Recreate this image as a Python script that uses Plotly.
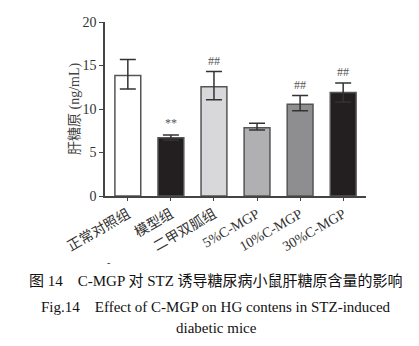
import plotly.graph_objects as go

categories = ["正常对照组", "模型组", "二甲双胍组", "5%C-MGP", "10%C-MGP", "30%C-MGP"]
values = [13.85, 6.7, 12.55, 7.85, 10.55, 11.9]
err_plus = [1.85, 0.3, 1.75, 0.5, 1.0, 1.1]
err_minus = [1.55, 0.3, 1.5, 0.25, 0.75, 1.1]
bar_colors = ["#ffffff", "#231f20", "#d8d8da", "#b0b0b2", "#8e8e90", "#231f20"]
marks = ["", "**", "##", "", "##", "##"]
mark_y = [0, 8.4, 15.5, 0, 12.75, 14.3]

W, H = 419, 346
L, R, T, B = 105, 53, 22, 150
ph = H - T - B

def py(p):
    return (H - B - p) / ph

def px(p):
    return (p - L) / (W - L - R)

FONT = "Liberation Serif, Times New Roman, Noto Sans CJK SC, serif"

fig = go.Figure()
fig.add_trace(go.Bar(
    x=list(range(len(categories))), y=values, width=0.6,
    marker=dict(color=bar_colors, line=dict(color="#555555", width=1.5)),
    error_y=dict(type="data", symmetric=False, array=err_plus, arrayminus=err_minus,
                 color="#333333", thickness=1.5, width=8),
))

for i, (m, yv) in enumerate(zip(marks, mark_y)):
    if m:
        fig.add_annotation(x=i, y=yv, text=m, showarrow=False,
                           font=dict(family=FONT, size=12, color="#555555"))

fig.add_annotation(xref="paper", yref="paper", x=px(75), y=0.5, text="肝糖原 (ng/mL)",
                   textangle=-90, showarrow=False, xanchor="center", yanchor="middle",
                   font=dict(family=FONT, size=14, color="#444444"))

captions = [
    ("图 14　C-MGP 对 STZ 诱导糖尿病小鼠肝糖原含量的影响", 281),
    ("Fig.14　Effect of C-MGP on HG contens in STZ-induced", 307),
    ("diabetic mice", 328),
]
for txt, yy in captions:
    fig.add_annotation(xref="paper", yref="paper", x=px(216), y=py(yy), text=txt,
                       showarrow=False, xanchor="center", yanchor="middle",
                       font=dict(family=FONT, size=15, color="#111111"))
fig.add_annotation(xref="paper", yref="paper", x=px(105), y=py(270), text="-",
                   showarrow=False, font=dict(family=FONT, size=10, color="#333333"))

fig.update_layout(
    width=W, height=H, margin=dict(l=L, r=R, t=T, b=B),
    plot_bgcolor="white", paper_bgcolor="white", showlegend=False, bargap=0.4,
    font=dict(family=FONT, size=14, color="#333333"),
    xaxis=dict(range=[-0.53, 5.53], tickmode="array", tickvals=list(range(len(categories))),
               ticktext=categories, tickangle=-30, showline=True, linecolor="#444444",
               linewidth=1.5, ticks="outside", ticklen=3, tickcolor="#444444",
               showgrid=False, zeroline=False, tickfont=dict(family=FONT, size=14, color="#333333")),
    yaxis=dict(range=[0, 20], tickvals=[0, 5, 10, 15, 20], showline=True, linecolor="#444444",
               linewidth=1.5, ticks="outside", ticklen=4, tickcolor="#444444",
               showgrid=False, zeroline=False, tickfont=dict(family=FONT, size=14, color="#333333")),
)

fig.write_html("out.html")
